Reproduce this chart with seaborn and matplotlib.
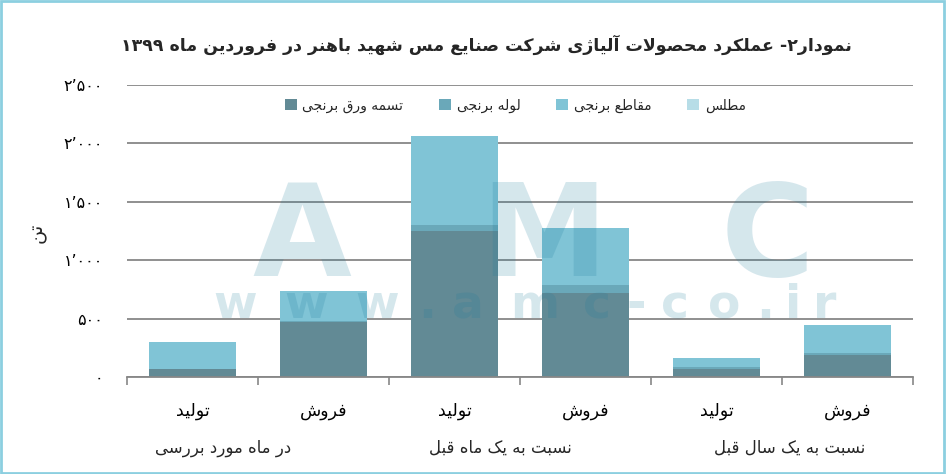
import re

import numpy as np
import pandas as pd
import matplotlib
matplotlib.use("Agg")
import matplotlib.pyplot as plt
import matplotlib.transforms as mtransforms
import seaborn as sns
from matplotlib.patches import Patch, Rectangle
from matplotlib.ticker import FixedLocator, FuncFormatter


# ---------------------------------------------------------------------------
# Data (tons)
# ---------------------------------------------------------------------------

bar_labels = ["تولید", "فروش", "تولید", "فروش", "تولید", "فروش"]
group_labels = ["در ماه مورد بررسی", "نسبت به یک ماه قبل", "نسبت به یک سال قبل"]

series_names = ["تسمه ورق برنجی", "لوله برنجی", "مقاطع برنجی", "مطلس"]
tasme_varagh = [71, 467, 1253, 722, 70, 191]
looleh = [0, 12, 51, 68, 18, 11]
maghate = [231, 260, 762, 488, 77, 246]
motalas = [0, 0, 0, 0, 0, 0]

colors = ["#628a95", "#6aa8b9", "#80c4d6", "#b7dde7"]

title = "نمودار۲- عملکرد محصولات آلیاژی شرکت صنایع مس شهید باهنر در فروردین ماه ۱۳۹۹"
y_label = "تن"


# ---------------------------------------------------------------------------
# Minimal Persian shaping (matplotlib has no complex text layout)
# ---------------------------------------------------------------------------

# char -> (first presentation form, number of forms)
# forms are ordered isolated, final, initial, medial
FORMS = {
    "ا": (0xFE8D, 2), "آ": (0xFE81, 2), "ب": (0xFE8F, 4), "پ": (0xFB56, 4),
    "ت": (0xFE95, 4), "ث": (0xFE99, 4), "ج": (0xFE9D, 4), "چ": (0xFB7A, 4),
    "ح": (0xFEA1, 4), "خ": (0xFEA5, 4), "د": (0xFEA9, 2), "ذ": (0xFEAB, 2),
    "ر": (0xFEAD, 2), "ز": (0xFEAF, 2), "ژ": (0xFB8A, 2), "س": (0xFEB1, 4),
    "ش": (0xFEB5, 4), "ص": (0xFEB9, 4), "ض": (0xFEBD, 4), "ط": (0xFEC1, 4),
    "ظ": (0xFEC5, 4), "ع": (0xFEC9, 4), "غ": (0xFECD, 4), "ف": (0xFED1, 4),
    "ق": (0xFED5, 4), "ک": (0xFB8E, 4), "گ": (0xFB92, 4), "ل": (0xFEDD, 4),
    "م": (0xFEE1, 4), "ن": (0xFEE5, 4), "و": (0xFEED, 2), "ه": (0xFEE9, 4),
    "ی": (0xFBFC, 4),
}
LAM_ALEF = {"ا": 0xFEFB, "آ": 0xFEF5}


def _shape(text):
    out = []
    i = 0
    n = len(text)
    while i < n:
        c = text[i]
        if c not in FORMS:
            out.append(c)
            i += 1
            continue
        prev = text[i - 1] if i > 0 else None
        link_prev = prev in FORMS and FORMS[prev][1] == 4
        nxt = text[i + 1] if i + 1 < n else None
        if c == "ل" and nxt in LAM_ALEF:
            out.append(chr(LAM_ALEF[nxt] + (1 if link_prev else 0)))
            i += 2
            continue
        start, k = FORMS[c]
        link_next = k == 4 and nxt in FORMS
        if link_prev and link_next:
            form = 3
        elif link_prev:
            form = 1
        elif link_next:
            form = 2
        else:
            form = 0
        out.append(chr(start + form))
        i += 1
    return "".join(out)


def fa(text):
    """Shape and put a Persian string into visual (left-to-right) order."""
    shaped = _shape(text)
    tokens = re.findall(r"[0-9۰-۹]+|[^0-9۰-۹]+", shaped)
    return "".join(t if t[0] in "0123456789۰۱۲۳۴۵۶۷۸۹" else t[::-1]
                   for t in reversed(tokens))


def fa_number(v, pos=None):
    s = f"{int(v):,}"
    return s.translate(str.maketrans("0123456789,", "۰۱۲۳۴۵۶۷۸۹٬"))


# ---------------------------------------------------------------------------
# Plot
# ---------------------------------------------------------------------------

sns.set_style("white")
plt.rcParams["font.family"] = ["DejaVu Sans"]

W, H = 946, 474
fig = plt.figure(figsize=(W / 100, H / 100), dpi=100)
ax = fig.add_axes([127 / W, 1 - 377 / H, (913 - 127) / W, (377 - 85) / H])

df = pd.DataFrame({
    "slot": np.arange(len(bar_labels)),
    series_names[0]: tasme_varagh,
    series_names[1]: looleh,
    series_names[2]: maghate,
    series_names[3]: motalas,
})

bottom = np.zeros(len(df))
for name, color in zip(series_names, colors):
    sns.barplot(data=df, x="slot", y=name, bottom=bottom, color=color,
                width=0.66, saturation=1, linewidth=0, ax=ax, zorder=1)
    bottom = bottom + df[name].to_numpy()

# watermark laid over the chart, translucent so the bars darken under it
wm = dict(color="#1b7a9b", alpha=0.18, fontweight="bold", zorder=3)
for ch, xc in zip("AMC", [0.222, 0.53, 0.815]):
    ax.text(xc, 0.345, ch, transform=ax.transAxes, ha="center",
            va="baseline", fontsize=92, **wm)

url = "www.amc-co.ir"
adv = {"w": 0.92, ".": 0.38, "a": 0.68, "m": 1.04, "c": 0.59, "-": 0.42,
       "o": 0.69, "i": 0.34, "r": 0.49}
widths = np.array([adv[c] for c in url])
edges = np.concatenate([[0], np.cumsum(widths)]) / widths.sum()
x0, x1 = (200 - 127) / 786, (844 - 127) / 786
centres = x0 + (edges[:-1] + edges[1:]) / 2 * (x1 - x0)
for ch, xc in zip(url, centres):
    ax.text(xc, 0.202, ch, transform=ax.transAxes, ha="center",
            va="baseline", fontsize=34, **wm)

ax.set_ylim(0, 2500)
ax.set_xlim(-0.5, len(bar_labels) - 0.5)
ax.set_yticks(np.arange(0, 2501, 500))
ax.yaxis.set_major_formatter(FuncFormatter(fa_number))
ax.set_axisbelow(True)
ax.yaxis.grid(True, color="#878787", linewidth=1.3)
ax.xaxis.grid(False)

ax.set_xticks(np.arange(len(bar_labels)))
ax.set_xticklabels([fa(t) for t in bar_labels])
ax.xaxis.set_minor_locator(FixedLocator(np.arange(-0.5, len(bar_labels), 1)))
ax.tick_params(axis="x", which="major", length=0, pad=18, labelsize=12.5,
               labelcolor="black")
ax.tick_params(axis="x", which="minor", length=6, width=1.2, color="#878787",
               bottom=True)
ax.tick_params(axis="y", length=0, pad=17, labelsize=11.5, labelcolor="black")
ax.set_xlabel("")
ax.set_ylabel("")

for side in ["top", "right", "left"]:
    ax.spines[side].set_visible(False)
ax.spines["bottom"].set_color("#878787")
ax.spines["bottom"].set_linewidth(1.3)

# group labels under the bar labels
group_x = [0.23, 2.35, 4.56]
group_tr = mtransforms.blended_transform_factory(ax.transData, fig.transFigure)
for gx, lab in zip(group_x, group_labels):
    ax.text(gx, 1 - 448 / H, fa(lab), transform=group_tr,
            ha="center", va="center", fontsize=12)

# legend
handles = [Patch(facecolor=c, edgecolor="none") for c in colors]
leg = ax.legend(handles, [fa(s) for s in series_names], ncol=4, frameon=False,
                loc="center", bbox_to_anchor=(0.494, 0.93), fontsize=10,
                handlelength=0.85, handleheight=0.85, handletextpad=0.4,
                columnspacing=2.6)
leg.set_zorder(4)

fig.text(486 / W, 1 - 45 / H, fa(title), ha="center", va="center",
         fontsize=12.5, fontweight="bold")
fig.text(37 / W, 1 - 233 / H, fa(y_label), ha="center", va="center",
         rotation=90, fontsize=14)

# light blue frame round the figure
fig.patches.append(Rectangle((0.001, 0.002), 0.997, 0.996,
                             transform=fig.transFigure, fill=False,
                             edgecolor="#8ccfe0", linewidth=2))

fig.savefig("out.png", dpi=100)
